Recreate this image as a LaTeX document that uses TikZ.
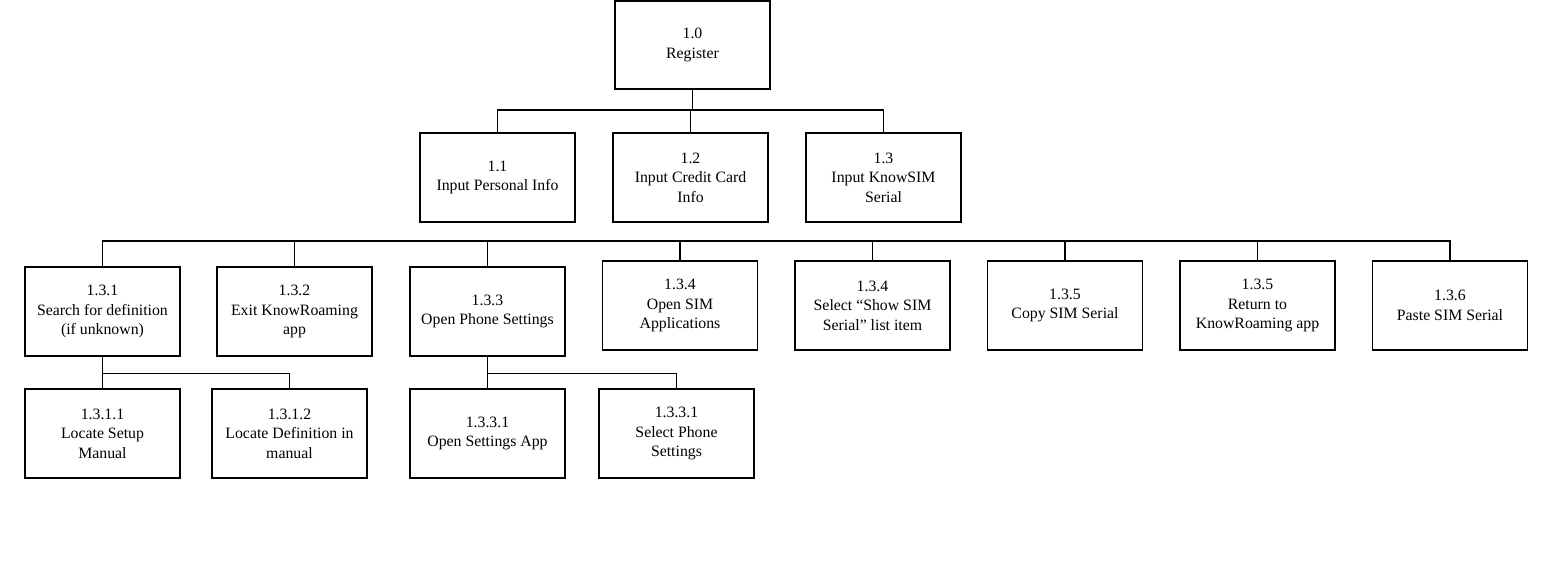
\documentclass[tikz,border=0pt]{standalone}
\usepackage{fontspec}
\setmainfont{Liberation Serif}
\begin{document}
\begin{tikzpicture}[x=1pt,y=-1pt,
  box/.style={draw, line width=1.8pt, minimum width=155pt, minimum height=89pt,
    inner sep=0pt, align=center, font=\fontsize{15.8}{19.5}\selectfont},
  conn/.style={line width=1.8pt}]
\useasboundingbox (0,0) rectangle (1551,565);
% top
\node[box, minimum height=88pt] (top) at (692.5,45) {1.0\\Register};
% level 1
\node[box] (n11) at (497.5,177.5) {1.1\\Input Personal Info};
\node[box] (n12) at (690.5,177.5) {1.2\\Input Credit Card\\Info};
\node[box] (n13) at (883.5,177.5) {1.3\\Input KnowSIM\\Serial};
% level 2
\node[box] (n131) at (102.5,311.5) {1.3.1\\Search for definition\\(if unknown)};
\node[box] (n132) at (294.5,311.5) {1.3.2\\Exit KnowRoaming\\app};
\node[box] (n133) at (487.5,311.5) {1.3.3\\Open Phone Settings};
\node[box] (n134) at (680,305.5) {1.3.4\\Open SIM\\Applications};
\node[box] (n134b) at (872.5,305.5) {1.3.4\\Select “Show SIM\\Serial” list item};
\node[box] (n135) at (1065,305.5) {1.3.5\\Copy SIM Serial};
\node[box] (n135b) at (1257.5,305.5) {1.3.5\\Return to\\KnowRoaming app};
\node[box] (n136) at (1450,305.5) {1.3.6\\Paste SIM Serial};
% level 3
\node[box] (n1311) at (102.5,433.5) {1.3.1.1\\Locate Setup\\Manual};
\node[box] (n1312) at (289.5,433.5) {1.3.1.2\\Locate Definition in\\manual};
\node[box] (n1331) at (487.5,433.5) {1.3.3.1\\Open Settings App};
\node[box] (n1331b) at (676.5,433.5) {1.3.3.1\\Select Phone\\Settings};
% bus coordinates
\coordinate (b1) at (0,110);
\coordinate (b2) at (0,241);
\coordinate (b3) at (0,373.5);
% connectors level 1
\draw[conn] (top.south) -- (top.south |- b1);
\draw[conn] (n11.north) |- (n13.north |- b1) -- (n13.north);
\draw[conn] (n12.north) -- (n12.north |- b1);
% connectors level 2
\draw[conn] (n131.north) |- (n136.north |- b2) -- (n136.north);
\foreach \n in {n132,n133,n134,n134b,n135,n135b}
  \draw[conn] (\n.north) -- (\n.north |- b2);
% connectors level 3
\draw[conn] (n131.south) -- (n131.south |- b3);
\draw[conn] (n1311.north) |- (n1312.north |- b3) -- (n1312.north);
\draw[conn] (n133.south) -- (n133.south |- b3);
\draw[conn] (n1331.north) |- (n1331b.north |- b3) -- (n1331b.north);
\end{tikzpicture}
\end{document}
